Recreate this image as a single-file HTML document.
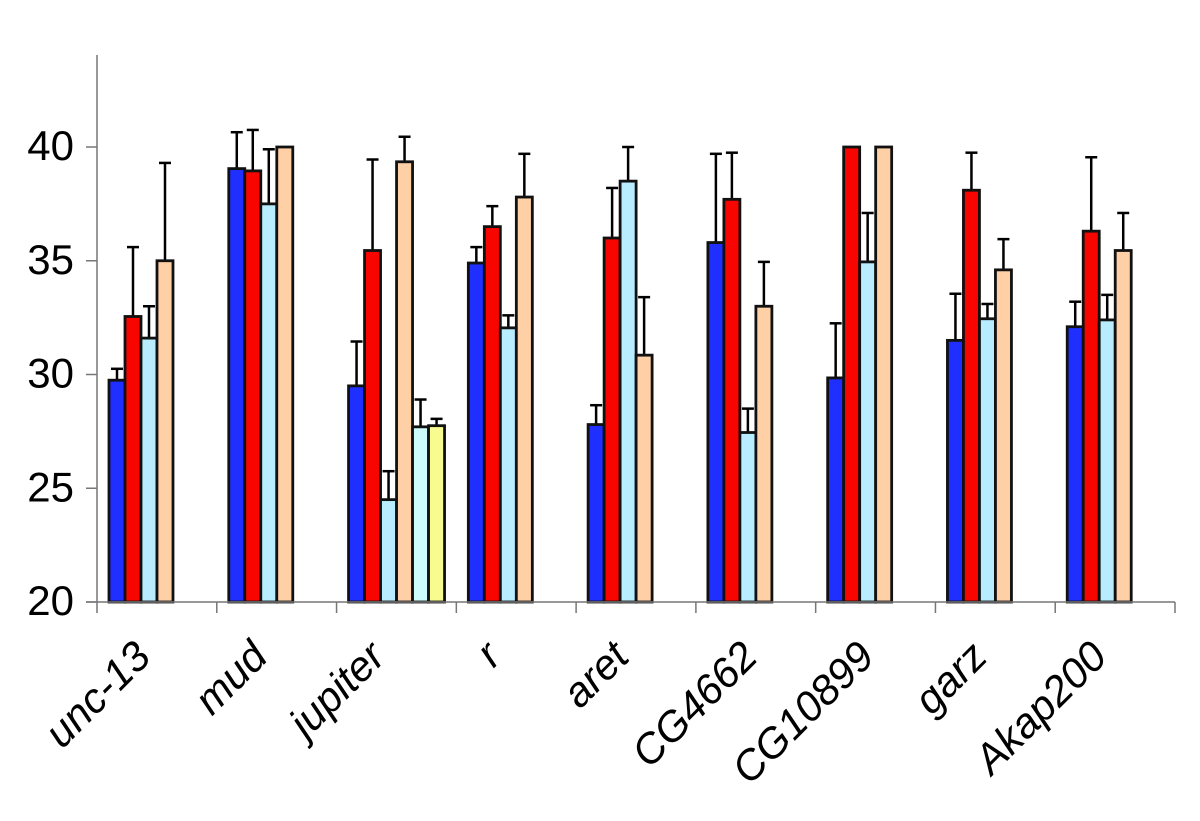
<!DOCTYPE html>
<html lang="en">
<head>
<meta charset="utf-8">
<title>Gene bar chart</title>
<style>
html,body{margin:0;padding:0;background:#fff;}
svg{display:block;}
text{font-family:"Liberation Sans",sans-serif;fill:#000;}
</style>
</head>
<body>
<svg id="chart" width="1200" height="821" viewBox="0 0 1200 821" xmlns="http://www.w3.org/2000/svg"></svg>
<script>
const categories = ["unc-13","mud","jupiter","r","aret","CG4662","CG10899","garz","Akap200"];
const yTickLabels = [20,25,30,35,40];
const seriesA = [29.75,39.05,29.5,34.9,27.8,35.8,29.85,31.5,32.1];
const seriesAErrTop = [30.25,40.65,31.45,35.6,28.65,39.7,32.25,33.55,33.2];
const seriesB = [32.55,38.95,35.45,36.5,36,37.7,40,38.1,36.3];
const seriesBErrTop = [35.6,40.75,39.45,37.4,38.2,39.75,null,39.75,39.55];
const seriesC = [31.6,37.5,24.5,32.05,38.5,27.45,34.95,32.45,32.4];
const seriesCErrTop = [33,39.9,25.75,32.6,40,28.5,37.1,33.1,33.5];
const seriesD = [35,40,39.35,37.8,30.85,33,40,34.6,35.45];
const seriesDErrTop = [39.3,null,40.45,39.7,33.4,34.95,null,35.95,37.1];
const seriesE = [null,null,27.7,null,null,null,null,null,null];
const seriesEErrTop = [null,null,28.9,null,null,null,null,null,null];
const seriesF = [null,null,27.75,null,null,null,null,null,null];
const seriesFErrTop = [null,null,28.05,null,null,null,null,null,null];

const svg = document.getElementById('chart');
const NS = 'http://www.w3.org/2000/svg';
const plotLeft = 97, plotRight = 1175, plotBottom = 602, plotTop = 55;
const yMin = 20, pxPerUnit = 22.75;
const bandWidth = (plotRight - plotLeft) / categories.length;
const barWidth = 16, groupInset = 12;
const yScale = v => plotBottom - (v - yMin) * pxPerUnit;
const xBand = i => plotLeft + i * bandWidth;

function make(tag, attrs) {
  const el = document.createElementNS(NS, tag);
  for (const k in attrs) el.setAttribute(k, attrs[k]);
  svg.appendChild(el);
  return el;
}

const allSeries = [
  {key:'blue', vals:seriesA, errs:seriesAErrTop, fill:'#1f2fff'},
  {key:'red', vals:seriesB, errs:seriesBErrTop, fill:'#f80500'},
  {key:'light-blue', vals:seriesC, errs:seriesCErrTop, fill:'#b8ecff'},
  {key:'peach', vals:seriesD, errs:seriesDErrTop, fill:'#ffcfa5'},
  {key:'pale-cyan', vals:seriesE, errs:seriesEErrTop, fill:'#ccfcfc'},
  {key:'yellow', vals:seriesF, errs:seriesFErrTop, fill:'#f8fc90'}
];

// error bars
allSeries.forEach((s, si) => {
  s.errs.forEach((top, i) => {
    if (top === null || s.vals[i] === null) return;
    const cx = xBand(i) + groupInset + barWidth * si + barWidth / 2;
    const stem = make('line', {x1:cx, x2:cx, y1:yScale(s.vals[i]), y2:yScale(top), stroke:'#000', 'stroke-width':2.5});
    
    
    const cap = make('line', {x1:cx - 6, x2:cx + 6, y1:yScale(top), y2:yScale(top), stroke:'#000', 'stroke-width':2.5});
    
    
  });
});

// bars
allSeries.forEach((s, si) => {
  s.vals.forEach((v, i) => {
    if (v === null) return;
    const bar = make('rect', {x:xBand(i) + groupInset + barWidth * si, y:yScale(v), width:barWidth, height:plotBottom - yScale(v), fill:s.fill, stroke:'#111', 'stroke-width':2.8});
    
    
  });
});

// axes
const yAxis = make('line', {x1:plotLeft, x2:plotLeft, y1:plotTop, y2:plotBottom + 11, stroke:'#777', 'stroke-width':1.5});


const xAxis = make('line', {x1:plotLeft - 11, x2:plotRight, y1:plotBottom, y2:plotBottom, stroke:'#777', 'stroke-width':1.5});



yTickLabels.forEach(t => {
  const y = yScale(t);
  const tick = make('line', {x1:plotLeft - 11, x2:plotLeft, y1:y, y2:y, stroke:'#777', 'stroke-width':1.5});
  
  
  const label = make('text', {x:74, y:y + 13, 'text-anchor':'end', 'font-size':42});
  label.textContent = t;
  
  
});

for (let i = 1; i <= categories.length; i++) {
  const tick = make('line', {x1:xBand(i), x2:xBand(i), y1:plotBottom, y2:plotBottom + 11, stroke:'#777', 'stroke-width':1.5});
  
  
}

// small per-label layout offsets for the rotated text
const labelOffset = {"unc-13":1,"mud":-2,"jupiter":-4,"r":-8,"aret":0,"CG4662":9,"CG10899":6,"garz":-1,"Akap200":-1};
categories.forEach((c, i) => {
  const ax = xBand(i) + bandWidth / 2 - 5 + (labelOffset[c] || 0);
  const ay = 659;
  const label = make('text', {x:ax, y:ay, 'text-anchor':'end', 'font-size':42, 'font-style':'italic', transform:'rotate(-45 ' + ax + ' ' + ay + ')'});
  label.textContent = c;
  
  
});
</script>
</body>
</html>
